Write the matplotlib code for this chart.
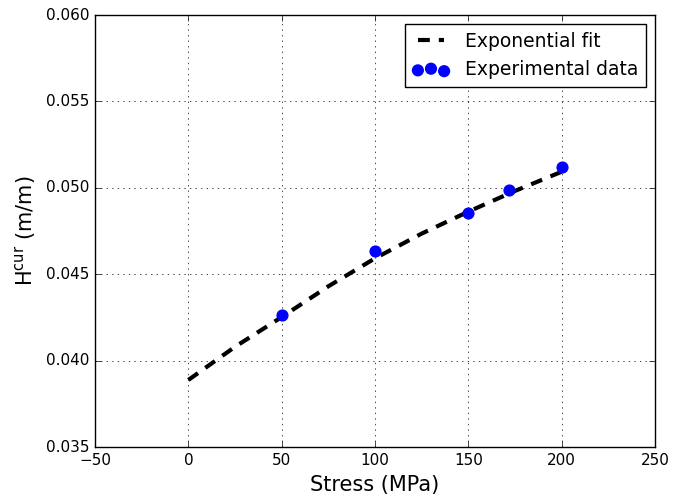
import numpy as np
import matplotlib
matplotlib.use("Agg")
import matplotlib.pyplot as plt

# experimental points
stress_exp = [50, 100, 150, 172, 200]
h_exp = [0.04264, 0.04635, 0.04852, 0.04985, 0.05118]

# exponential fit
stress_fit = [0, 25, 50, 75, 100, 125, 150, 175, 200]
h_fit = [0.03888, 0.04080, 0.04252, 0.04430, 0.04592, 0.04735, 0.04862, 0.04982, 0.05093]

plt.style.use('classic')
plt.rcParams['figure.facecolor'] = 'white'
plt.rcParams['savefig.facecolor'] = 'white'
plt.rcParams['mathtext.default'] = 'regular'

fig = plt.figure(figsize=(6.85, 4.94), dpi=100)
ax = fig.add_axes([0.1387, 0.0951, 0.8175, 0.8745])

ax.plot(stress_fit, h_fit, 'k--', lw=3, dashes=(8.5, 6.5), label='Exponential fit')
ax.scatter(stress_exp, h_exp, s=60, c='b', edgecolors='b', zorder=3, label='Experimental data')

ax.set_xlim(-50, 250)
ax.set_ylim(0.035, 0.060)
ax.set_xticks(np.arange(-50, 251, 50))
ax.set_yticks(np.arange(0.035, 0.0601, 0.005))
ax.yaxis.set_major_formatter(matplotlib.ticker.FormatStrFormatter('%.3f'))
ax.tick_params(labelsize=11)
ax.grid(True)
ax.set_xlabel('Stress (MPa)', fontsize=15)
ax.set_ylabel('H$^{cur}$ (m/m)', fontsize=15)
ax.legend(loc='upper right', fontsize=13.5, scatterpoints=3, fancybox=False)

fig.savefig('out.png', dpi=100)
